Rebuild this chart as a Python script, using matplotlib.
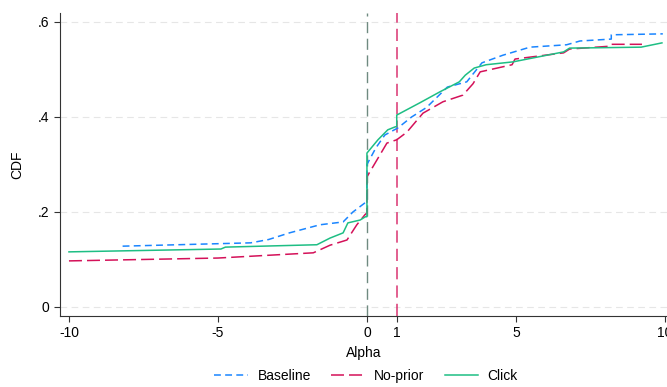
import matplotlib.pyplot as plt

plt.rcParams['font.family'] = ['Liberation Sans', 'DejaVu Sans']

baseline_x = [-8.2, -3.9, -3.3, -2.6, -1.58, -0.8, -0.47, -0.07, 0.0, 0.0, 0.3, 0.6,
              1.04, 1.5, 2.0, 2.7, 3.35, 3.86, 4.56, 5.47, 6.7, 7.15, 8.2, 8.2, 9.93]
baseline_y = [0.128, 0.135, 0.142, 0.156, 0.173, 0.179, 0.2, 0.219, 0.222, 0.30, 0.335, 0.362,
              0.377, 0.40, 0.42, 0.463, 0.474, 0.514, 0.53, 0.547, 0.552, 0.56, 0.564, 0.573, 0.575]

noprior_x = [-10, -5, -1.8, -1.24, -0.67, -0.34, -0.07, 0.0, 0.0, 0.34, 0.67, 1.0, 1.34,
             1.88, 2.55, 3.22, 3.56, 3.8, 4.87, 4.97, 6.6, 6.8, 8.15, 8.2, 9.23]
noprior_y = [0.097, 0.103, 0.114, 0.13, 0.141, 0.173, 0.194, 0.198, 0.274, 0.31, 0.345, 0.352, 0.368,
             0.408, 0.432, 0.446, 0.47, 0.495, 0.51, 0.522, 0.535, 0.543, 0.549, 0.553, 0.553]

click_x = [-10, -4.9, -4.75, -1.68, -1.24, -0.8, -0.64, -0.23, -0.05, 0.0, 0.0, 0.37, 0.7,
           0.94, 1.0, 1.0, 1.78, 2.45, 3.1, 3.3, 3.6, 4.0, 4.9, 6.6, 6.8, 9.2, 9.9]
click_y = [0.116, 0.122, 0.126, 0.131, 0.145, 0.156, 0.177, 0.183, 0.19, 0.19, 0.324, 0.352, 0.373,
           0.379, 0.38, 0.404, 0.43, 0.453, 0.474, 0.488, 0.503, 0.51, 0.516, 0.537, 0.545, 0.547, 0.556]

xticks = [-10, -5, 0, 1, 5, 10]
yticks = [0, 0.2, 0.4, 0.6]
ylabels = ["0", ".2", ".4", ".6"]

fig = plt.figure(figsize=(6.67, 3.87), dpi=100)
ax = fig.add_axes([0.090, 0.1835, 0.910, 0.783])

for y in yticks:
    ax.axhline(y, color="#e6e6e6", lw=0.8, dashes=(6, 4), zorder=0)

ax.axvline(0, color="#6f8a80", lw=1.0, dashes=(8, 4), zorder=1)
ax.axvline(1, color="#d41159", lw=1.1, dashes=(8, 4), alpha=0.85, zorder=1)

ax.plot(baseline_x, baseline_y, color="#1a85ff", lw=1.1, dashes=(4.5, 2.8), label="Baseline", zorder=3)
ax.plot(noprior_x, noprior_y, color="#d41159", lw=1.1, dashes=(8.5, 3.3), label="No-prior", zorder=3)
ax.plot(click_x, click_y, color="#1ebe84", lw=1.1, label="Click", zorder=3)

ax.set_xlim(-10.30, 10.07)
ax.set_ylim(-0.019, 0.619)
ax.set_xticks(xticks)
ax.set_xticklabels([str(t) for t in xticks])
ax.set_yticks(yticks)
ax.set_yticklabels(ylabels)
ax.tick_params(labelsize=10, length=4, width=0.8, colors="#333333", labelcolor="black")
ax.spines["top"].set_visible(False)
ax.spines["right"].set_visible(False)
ax.spines["left"].set_color("#333333")
ax.spines["bottom"].set_color("#333333")
ax.set_xlabel("Alpha", fontsize=10, labelpad=4)
ax.set_ylabel("CDF", fontsize=10, labelpad=10)

fig.legend(loc="center", bbox_to_anchor=(0.549, 0.028), ncol=3, frameon=False,
           fontsize=10, handlelength=2.4, columnspacing=1.45, handletextpad=0.7)

fig.savefig("out.png", dpi=100)
